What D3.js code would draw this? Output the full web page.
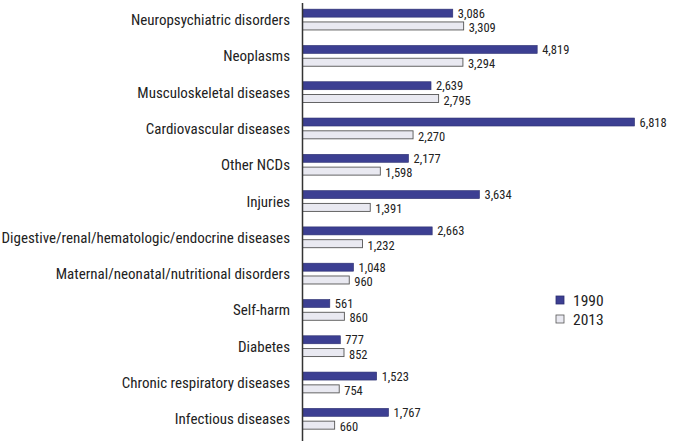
<!DOCTYPE html>
<html><head><meta charset="utf-8">
<script src="https://cdn.jsdelivr.net/npm/d3@7"></script>
<style>body{margin:0;background:#fff}svg{display:block}</style>
</head><body>
<svg id="c" width="674" height="441"></svg>
<script>
const categories = ["Neuropsychiatric disorders","Neoplasms","Musculoskeletal diseases","Cardiovascular diseases","Other NCDs","Injuries","Digestive/renal/hematologic/endocrine diseases","Maternal/neonatal/nutritional disorders","Self-harm","Diabetes","Chronic respiratory diseases","Infectious diseases"];
const values1990 = [3086,4819,2639,6818,2177,3634,2663,1048,561,777,1523,1767];
const values2013 = [3309,3294,2795,2270,1598,1391,1232,960,860,852,754,660];
const seriesNames = ["1990","2013"];

const svg = d3.select("#c");
const font = "'Liberation Sans Narrow','Roboto Condensed','Arial Narrow',sans-serif";
const x0 = 302.5;
const x = d3.scaleLinear().domain([0,7000]).range([x0, x0 + 7000*0.0487]);
const y = d3.scaleBand().domain(categories).range([1.5, 437]).paddingInner(0).paddingOuter(0);
const colors = ["#3c3f92","#e9e9f1"];
const strokes = ["#2c2f70","#555"];

const groups = svg.append("g").selectAll("g.grp").data(categories).join("g")
  .attr("class","grp")
  .attr("transform", d => `translate(0,${y(d) + y.bandwidth()/2})`);

groups.each(function(c,i){
  const gg = d3.select(this);
  const vals = [values1990[i], values2013[i]];
  vals.forEach((v,k)=>{
    const top = k===0 ? -10.5 : 2.3;
    gg.append("rect").attr("x", x(0)).attr("y", top).attr("width", x(v)-x(0)).attr("height", 8)
      .attr("fill", colors[k]).attr("stroke", strokes[k]).attr("stroke-width", k===0?0.6:0.9);
    gg.append("text").attr("x", x(v)+5).attr("y", top + (k===0 ? 4 : 5.5)).attr("dy","0.36em")
      .attr("font-family", font).attr("font-size", 12.5).attr("fill","#222")
      .text(d3.format(",")(v));
  });
  gg.append("text").attr("x", 290).attr("y", 0).attr("dy","0.36em").attr("text-anchor","end")
    .attr("font-family", font).attr("font-size", 15).attr("fill","#222").text(c);
});

// axis line
svg.append("line").attr("x1", x0).attr("x2", x0).attr("y1", 3).attr("y2", 441)
  .attr("stroke","#333").attr("stroke-width",1.5);

// legend
const leg = svg.append("g").attr("transform","translate(556,296)");
seriesNames.forEach((s,k)=>{
  leg.append("rect").attr("x",0).attr("y",k*19).attr("width",8).attr("height",8)
    .attr("fill",colors[k]).attr("stroke", strokes[k]).attr("stroke-width",0.8);
  leg.append("text").attr("x",17).attr("y",k*19+4.5).attr("dy","0.36em")
    .attr("font-family",font).attr("font-size",15.5).attr("fill","#222").text(s);
});
</script>
</body></html>
